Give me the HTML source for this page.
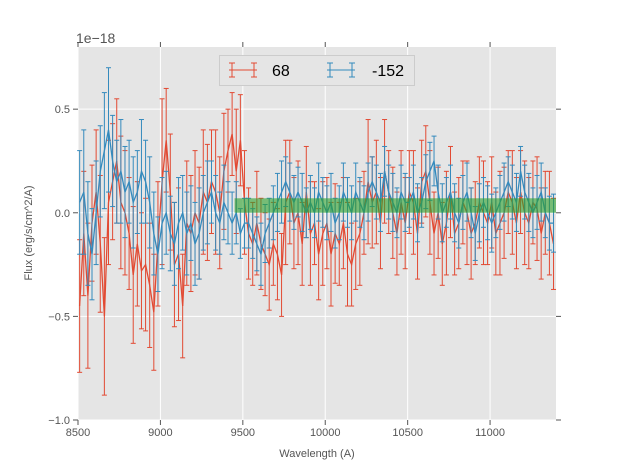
<!DOCTYPE html>
<html><head><meta charset="utf-8"><style>
body{margin:0;background:#fff;width:617px;height:467px;overflow:hidden}
svg text{font-family:"Liberation Sans","DejaVu Sans",sans-serif}
</style></head><body>
<svg id="chart" width="617" height="467">
<rect x="78" y="47" width="478" height="373" fill="#e5e5e5"/>
<g id="grid"></g>
<g id="series"></g>
<g id="band"></g>
<g id="axes"></g>
<text x="76" y="43" font-size="14" fill="#555">1e−18</text>
<text x="317" y="457" font-size="11" fill="#555" text-anchor="middle">Wavelength (A)</text>
<text transform="translate(32,233) rotate(-90)" font-size="11" fill="#555" text-anchor="middle">Flux (erg/s/cm^2/A)</text>
<g>
<rect x="219.5" y="55.5" width="195" height="30" fill="#e5e5e5" stroke="#ccc"/>
<g stroke="#e24a33" stroke-width="1">
<line x1="229" y1="70" x2="257" y2="70"/><line x1="232" y1="63" x2="232" y2="77"/><line x1="254" y1="63" x2="254" y2="77"/>
<line x1="229" y1="63" x2="235" y2="63"/><line x1="229" y1="77" x2="235" y2="77"/><line x1="251" y1="63" x2="257" y2="63"/><line x1="251" y1="77" x2="257" y2="77"/>
</g>
<text x="272" y="76" font-size="16" fill="#000">68</text>
<g stroke="#348abd" stroke-width="1">
<line x1="327" y1="70" x2="355" y2="70"/><line x1="330" y1="63" x2="330" y2="77"/><line x1="352" y1="63" x2="352" y2="77"/>
<line x1="327" y1="63" x2="333" y2="63"/><line x1="327" y1="77" x2="333" y2="77"/><line x1="349" y1="63" x2="355" y2="63"/><line x1="349" y1="77" x2="355" y2="77"/>
</g>
<text x="372" y="76" font-size="16" fill="#000">-152</text>
</g>
</svg>
<script>
const xTicks=[8500,9000,9500,10000,10500,11000];
const xTickLabels=["8500","9000","9500","10000","10500","11000"];
const yTicks=[-1.0,-0.5,0.0,0.5];
const yTickLabels=["−1.0","−0.5","0.0","0.5"];
const wlStart=8510, wlStep=25;
const red=[-0.45,-0.1,-0.4,-0.05,0.1,-0.15,-0.5,0.05,0.15,0.25,0.05,0.0,-0.1,-0.3,-0.15,-0.28,-0.25,-0.35,-0.48,-0.15,
0.15,0.35,0.1,-0.25,-0.2,-0.45,-0.05,-0.1,0.0,-0.05,0.1,0.05,0.15,0.1,0.0,0.2,0.3,0.38,0.2,0.35,
0.05,-0.1,-0.15,-0.05,-0.15,-0.2,-0.25,-0.15,-0.2,-0.3,0.05,0.1,-0.05,0.0,-0.15,0.1,-0.1,-0.05,-0.2,-0.1,
-0.05,-0.2,-0.1,-0.15,-0.05,-0.2,-0.25,-0.15,-0.1,0.0,0.15,0.05,0.1,-0.05,0.2,0.1,0.0,-0.1,0.05,-0.05,
0.1,0.05,-0.1,0.15,0.2,0.05,-0.1,0.0,-0.15,-0.05,0.1,-0.1,-0.05,0.05,0.0,-0.1,-0.05,0.05,0.0,-0.05,
0.05,-0.1,-0.05,0.0,0.1,0.05,-0.05,0.1,0.0,-0.05,0.05,0.02,-0.1,0.0,-0.05,-0.15];
const redErr=[0.32,0.3,0.35,0.28,0.3,0.33,0.38,0.3,0.28,0.3,0.32,0.3,0.27,0.33,0.3,0.28,0.32,0.3,0.28,0.3,
0.4,0.25,0.28,0.3,0.32,0.25,0.3,0.28,0.3,0.27,0.3,0.28,0.25,0.3,0.27,0.28,0.2,0.2,0.3,0.22,
0.25,0.22,0.2,0.25,0.22,0.2,0.22,0.2,0.22,0.2,0.3,0.25,0.22,0.25,0.2,0.22,0.25,0.2,0.22,0.25,
0.22,0.25,0.24,0.2,0.22,0.25,0.2,0.22,0.25,0.2,0.3,0.22,0.25,0.22,0.25,0.2,0.22,0.2,0.25,0.22,
0.2,0.25,0.22,0.2,0.22,0.25,0.2,0.22,0.2,0.25,0.22,0.2,0.22,0.2,0.25,0.22,0.2,0.22,0.25,0.2,
0.22,0.2,0.25,0.22,0.2,0.25,0.22,0.2,0.25,0.22,0.2,0.25,0.22,0.2,0.25,0.22];
const blue=[0.05,0.1,-0.1,-0.2,0.0,0.2,0.3,0.4,0.25,0.15,0.2,0.1,0.15,0.05,0.1,0.2,0.15,0.05,-0.1,-0.2,
-0.05,0.0,-0.1,-0.15,-0.05,0.0,-0.1,-0.05,-0.15,-0.1,0.0,0.05,0.1,0.0,-0.05,0.05,0.0,-0.05,0.0,-0.1,
-0.05,-0.05,-0.1,-0.15,-0.2,-0.1,-0.05,0.0,0.05,0.1,0.15,0.1,0.05,0.1,0.05,0.0,0.05,0.0,0.1,0.05,
0.0,0.05,-0.05,0.0,0.1,0.05,0.0,0.1,0.05,0.0,0.1,0.15,0.1,0.05,0.2,0.1,0.05,0.0,0.1,0.05,
0.05,0.1,0.0,0.05,0.15,0.2,0.25,0.1,0.0,0.05,0.1,0.0,-0.05,0.05,0.1,0.0,-0.1,0.0,0.05,0.0,
-0.05,0.0,0.05,0.1,0.15,0.1,0.05,0.2,0.1,0.05,0.0,0.05,0.1,0.0,-0.05,-0.05];
const blueErr=[0.25,0.3,0.25,0.22,0.25,0.22,0.28,0.3,0.22,0.2,0.25,0.22,0.2,0.22,0.2,0.25,0.2,0.22,0.2,0.18,
0.22,0.2,0.18,0.2,0.22,0.18,0.2,0.18,0.2,0.22,0.18,0.2,0.15,0.18,0.15,0.18,0.15,0.15,0.15,0.12,
0.12,0.12,0.12,0.13,0.15,0.14,0.12,0.13,0.14,0.15,0.12,0.14,0.13,0.12,0.14,0.12,0.13,0.12,0.14,0.12,
0.13,0.14,0.12,0.13,0.14,0.12,0.13,0.14,0.12,0.13,0.14,0.12,0.13,0.14,0.12,0.13,0.14,0.12,0.13,0.14,
0.12,0.13,0.14,0.12,0.13,0.14,0.12,0.13,0.14,0.12,0.13,0.14,0.12,0.13,0.14,0.12,0.13,0.14,0.12,0.13,
0.14,0.12,0.13,0.14,0.12,0.13,0.14,0.12,0.13,0.14,0.12,0.13,0.14,0.12,0.13,0.14];
const bandRange=[9450,11400];
const bandFlux=[0.0,0.07];

const X0=78,X1=556,Y0=47,Y1=420;
const xs=v=>X0+(v-8500)/(11400-8500)*(X1-X0);
const ys=v=>Y1-(v+1.0)/(0.8+1.0)*(Y1-Y0);
const NS="http://www.w3.org/2000/svg";
function mk(tag,attrs,parent){const e=document.createElementNS(NS,tag);for(const k in attrs)e.setAttribute(k,attrs[k]);parent.appendChild(e);return e;}
const grid=document.getElementById('grid'),axes=document.getElementById('axes');
xTicks.forEach((t,i)=>{const x=xs(t);
 const g=mk('line',{x1:x,x2:x,y1:Y0,y2:Y1,stroke:'#fff','stroke-width':1},grid);
 
 mk('line',{x1:x,x2:x,y1:Y1,y2:Y1+5,stroke:'#555'},axes);
 mk('line',{x1:x,x2:x,y1:Y0,y2:Y0-5,stroke:'#555'},axes);
 const tx=mk('text',{x:x,y:Y1+16,'font-size':11,fill:'#555','text-anchor':'middle'},axes);tx.textContent=xTickLabels[i];
 });
yTicks.forEach((t,i)=>{const y=ys(t);
 const g=mk('line',{x1:X0,x2:X1,y1:y,y2:y,stroke:'#fff','stroke-width':1},grid);
 
 mk('line',{x1:X0-5,x2:X0,y1:y,y2:y,stroke:'#555'},axes);
 mk('line',{x1:X1,x2:X1+5,y1:y,y2:y,stroke:'#555'},axes);
 const tx=mk('text',{x:X0-8,y:y+4,'font-size':11,fill:'#555','text-anchor':'end'},axes);tx.textContent=yTickLabels[i];
 });
const ser=document.getElementById('series');
function draw(vals,errs,color,name){
 const g=mk('g',{stroke:color,'stroke-width':1,fill:'none'},ser);
 
 
 let d='';
 vals.forEach((v,i)=>{const wl=wlStart+i*wlStep;if(wl>11400)return;const x=xs(wl);
  const t=ys(v+errs[i]),b=ys(v-errs[i]);
  mk('line',{x1:x,x2:x,y1:t,y2:b},g);
  mk('line',{x1:x-2.5,x2:x+2.5,y1:t,y2:t},g);
  mk('line',{x1:x-2.5,x2:x+2.5,y1:b,y2:b},g);
  d+=(d?'L':'M')+x.toFixed(1)+','+ys(v).toFixed(1);});
 const p=mk('path',{d:d,'stroke-width':1.3},g);
 
 
}
draw(red,redErr,'#e24a33','series-68');
draw(blue,blueErr,'#348abd','series-152');
const band=mk('rect',{x:xs(bandRange[0]),y:ys(bandFlux[1]),width:xs(bandRange[1])-xs(bandRange[0]),height:ys(bandFlux[0])-ys(bandFlux[1]),fill:'#2ca02c','fill-opacity':0.6},document.getElementById('band'));


</script>
</body></html>
